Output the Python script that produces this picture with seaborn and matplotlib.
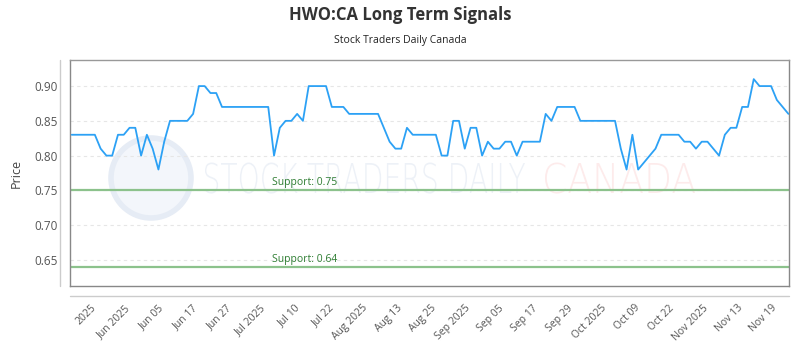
import numpy as np
import pandas as pd
import matplotlib
matplotlib.use("Agg")
import matplotlib.pyplot as plt
from matplotlib.lines import Line2D
from matplotlib.patches import Circle, PathPatch
from matplotlib.textpath import TextPath
from matplotlib.font_manager import FontProperties
from matplotlib.transforms import Affine2D
import seaborn as sns

prices = [
    0.83, 0.83, 0.83, 0.83, 0.83, 0.81, 0.80, 0.80, 0.83, 0.83,
    0.84, 0.84, 0.80, 0.83, 0.81, 0.78, 0.82, 0.85, 0.85, 0.85,
    0.85, 0.86, 0.90, 0.90, 0.89, 0.89, 0.87, 0.87, 0.87, 0.87,
    0.87, 0.87, 0.87, 0.87, 0.87, 0.80, 0.84, 0.85, 0.85, 0.86,
    0.85, 0.90, 0.90, 0.90, 0.90, 0.87, 0.87, 0.87, 0.86, 0.86,
    0.86, 0.86, 0.86, 0.86, 0.84, 0.82, 0.81, 0.81, 0.84, 0.83,
    0.83, 0.83, 0.83, 0.83, 0.80, 0.80, 0.85, 0.85, 0.81, 0.84,
    0.84, 0.80, 0.82, 0.81, 0.81, 0.82, 0.82, 0.80, 0.82, 0.82,
    0.82, 0.82, 0.86, 0.85, 0.87, 0.87, 0.87, 0.87, 0.85, 0.85,
    0.85, 0.85, 0.85, 0.85, 0.85, 0.81, 0.78, 0.83, 0.78, 0.79,
    0.80, 0.81, 0.83, 0.83, 0.83, 0.83, 0.82, 0.82, 0.81, 0.82,
    0.82, 0.81, 0.80, 0.83, 0.84, 0.84, 0.87, 0.87, 0.91, 0.90,
    0.90, 0.90, 0.88, 0.87, 0.86,
]
tick_labels = [
    "2025", "Jun 2025", "Jun 05", "Jun 17", "Jun 27", "Jul 2025", "Jul 10",
    "Jul 22", "Aug 2025", "Aug 13", "Aug 25", "Sep 2025", "Sep 05", "Sep 17",
    "Sep 29", "Oct 2025", "Oct 09", "Oct 22", "Nov 2025", "Nov 13", "Nov 19",
]
support_levels = [0.75, 0.64]
support_labels = ["Support: 0.75", "Support: 0.64"]
y_ticks = [0.65, 0.70, 0.75, 0.80, 0.85, 0.90]

df = pd.DataFrame({"idx": np.arange(len(prices)), "price": prices})

sns.set_theme(style="white")
plt.rcParams["font.family"] = ["Open Sans", "DejaVu Sans"]

W, H = 800, 350
fig = plt.figure(figsize=(8, 3.5), dpi=100)
ax_l, ax_r, ax_t, ax_b = 70, 789, 60, 286
ax = fig.add_axes([ax_l / W, 1 - ax_b / H, (ax_r - ax_l) / W, (ax_b - ax_t) / H])
ax.set_zorder(1)
ax.patch.set_alpha(0)

n = len(prices)
ax.set_xlim(-0.3, n - 1 + 0.1)
ax.set_ylim(0.6125, 0.9375)


def watermark(text, x0, x1, yc, cap_h, color):
    fp = FontProperties(family="DejaVu Sans", weight="light")
    tp = TextPath((0, 0), text, size=10, prop=fp)
    ext = tp.get_extents()
    sx = (x1 - x0) / ext.width
    sy = cap_h / 7.3
    tr = Affine2D().translate(-ext.x0, 0).scale(sx, sy).translate(x0, H - yc - cap_h / 2)
    path = tr.transform_path(tp)
    fig.add_artist(PathPatch(path, transform=None, facecolor=color,
                             edgecolor="none", zorder=-1))


# watermark (behind the plot)
fig.add_artist(Circle((151, H - 178), 40, transform=None, facecolor="#f3f6fb",
                      edgecolor="#e6ecf5", linewidth=4, zorder=-1))
watermark("STOCK TRADERS DAILY", 205, 525, 178, 30, "#edf1f7")
watermark("CANADA", 545, 695, 178, 30, "#fdebeb")

for yv in y_ticks:
    ax.axhline(yv, color="#e6e6e6", linestyle=(0, (3, 3)), linewidth=0.8, zorder=1)

for lvl, lab in zip(support_levels, support_labels):
    ax.axhline(lvl, color="#8cc28c", linewidth=1.6, zorder=2)
    ax.text(34.7, lvl + 0.003, lab, color="#2e7d32", fontsize=7.5,
            ha="left", va="bottom", zorder=3)

sns.lineplot(data=df, x="idx", y="price", ax=ax, color="#2ca1f5",
             linewidth=1.3, zorder=4)

tick_pos = np.linspace(3.2, 121.0, len(tick_labels))
ax.set_xticks(tick_pos)
ax.set_xticklabels(tick_labels, rotation=45, ha="right", rotation_mode="anchor",
                   fontsize=7.5, color="#555555")
ax.tick_params(axis="x", length=0, pad=12)
ax.set_yticks(y_ticks)
ax.set_yticklabels([f"{v:.2f}" for v in y_ticks], fontsize=8.5, color="#555555")
ax.tick_params(axis="y", length=0, pad=9)
ax.set_xlabel("")
ax.set_ylabel("Price", fontsize=9, color="#444444", labelpad=8)

for side in ["left", "bottom", "top", "right"]:
    ax.spines[side].set_visible(True)
    ax.spines[side].set_color("#888888")
    ax.spines[side].set_linewidth(1.0)
ax.spines["top"].set_color("#999999")

# outer light axis lines
fig.add_artist(Line2D([60 / W, 60 / W], [1 - ax_t / H, 1 - ax_b / H],
                      color="#cccccc", linewidth=1))
fig.add_artist(Line2D([ax_l / W, ax_r / W], [1 - 296 / H, 1 - 296 / H],
                      color="#cccccc", linewidth=1))

fig.text(0.5, 1 - 15 / H, "HWO:CA Long Term Signals", ha="center", va="center",
         fontsize=12, fontweight="bold", color="#333333")
fig.text(0.5, 1 - 40 / H, "Stock Traders Daily Canada", ha="center", va="center",
         fontsize=7.5, color="#222222")

fig.savefig("out.png", dpi=100, facecolor="white")
